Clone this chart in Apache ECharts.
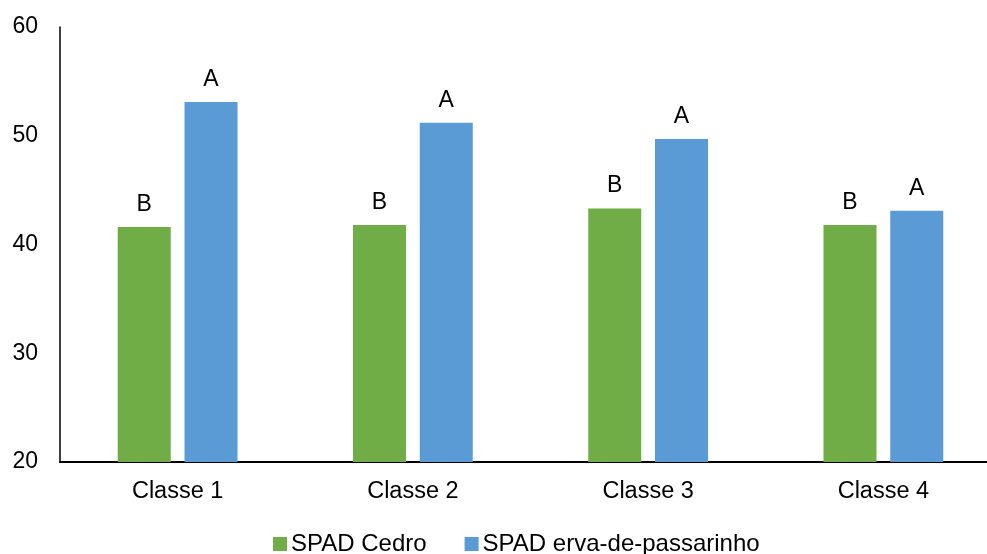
<!DOCTYPE html>
<html><head><meta charset="utf-8">
<script src="https://cdn.jsdelivr.net/npm/echarts@6/dist/echarts.min.js"></script>
<style>html,body{margin:0;padding:0;background:#fff}#c{width:987px;height:554px}</style>
</head><body><div id="c"></div>
<script>
const categories = ['Classe 1', 'Classe 2', 'Classe 3', 'Classe 4'];
const cedro = [41.6, 41.8, 43.3, 41.8];
const erva = [53.1, 51.2, 49.7, 43.1];
const cedroLetters = ['B', 'B', 'B', 'B'];
const ervaLetters = ['A', 'A', 'A', 'A'];
const seriesNames = ['SPAD Cedro', 'SPAD erva-de-passarinho'];

const font = 'Liberation Sans, Arial, sans-serif';
const chart = echarts.init(document.getElementById('c'), null, {renderer: 'canvas'});
function lbl(letters) {
  return {show: true, position: 'top', distance: 11, color: '#000', fontFamily: font, fontSize: 23,
    formatter: p => letters[p.dataIndex]};
}
chart.setOption({
  animation: false,
  grid: {left: 60, top: 27, width: 941, height: 435, containLabel: false, outerBoundsMode: 'none'},
  legend: {
    left: 268, top: 527, itemWidth: 14, itemHeight: 14, itemGap: 38,
    icon: 'rect',
    textStyle: {color: '#000', fontFamily: font, fontSize: 24, padding: [0, 0, 0, -1]},
    data: seriesNames
  },
  xAxis: {
    type: 'category', data: categories,
    axisLine: {lineStyle: {color: '#000', width: 2}},
    axisTick: {show: false},
    axisLabel: {color: '#000', fontFamily: font, fontSize: 23.5, margin: 18}
  },
  yAxis: {
    type: 'value', min: 20, max: 60, interval: 10,
    axisLine: {show: true, lineStyle: {color: '#000', width: 1.5}},
    axisTick: {show: false},
    splitLine: {show: false},
    axisLabel: {color: '#000', fontFamily: font, fontSize: 23, margin: 22}
  },
  series: [
    {name: seriesNames[0], type: 'bar', data: cedro, barWidth: 53, barGap: '26%',
     itemStyle: {color: '#70AD47'}, label: lbl(cedroLetters)},
    {name: seriesNames[1], type: 'bar', data: erva, barWidth: 53,
     itemStyle: {color: '#5B9BD5'}, label: lbl(ervaLetters)}
  ]
});
</script></body></html>
